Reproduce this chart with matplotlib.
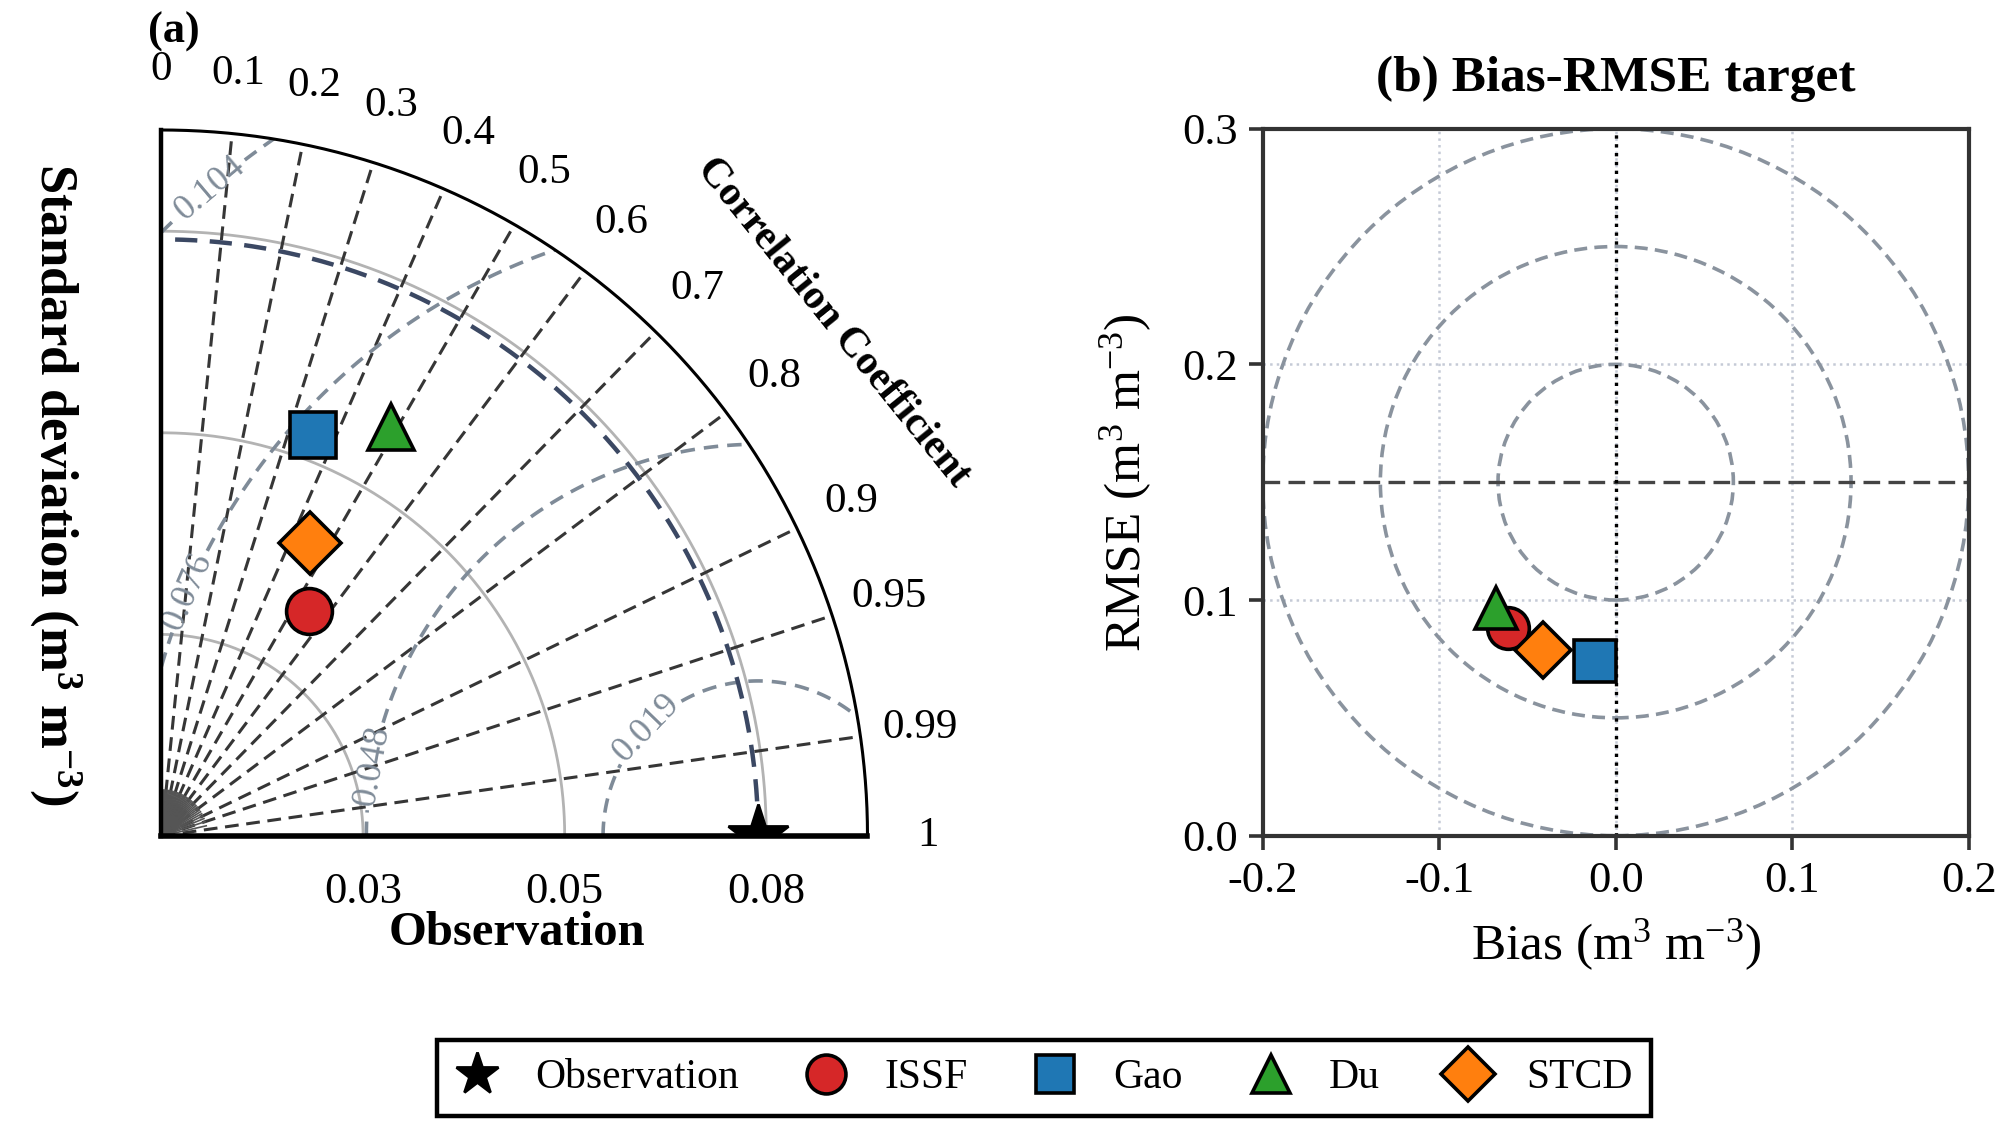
import numpy as np
import matplotlib
matplotlib.use('Agg')
import matplotlib.pyplot as plt
from matplotlib.patches import Wedge, Circle
from matplotlib.lines import Line2D

plt.rcParams['font.family'] = ['Liberation Serif', 'DejaVu Serif']
plt.rcParams['mathtext.fontset'] = 'custom'
plt.rcParams['mathtext.rm'] = 'Liberation Serif'
plt.rcParams['mathtext.it'] = 'Liberation Serif:italic'
plt.rcParams['mathtext.bf'] = 'Liberation Serif:bold'
plt.rcParams['axes.unicode_minus'] = False

# ---------------- data ----------------
models = ['ISSF', 'Gao', 'Du', 'STCD']
colors = ['#d62728', '#1f77b4', '#2ca02c', '#ff7f0e']
markers = ['o', 's', '^', 'D']

obs_std = 0.0731
model_std = [0.0330, 0.0525, 0.0575, 0.0403]
model_corr = [0.548, 0.353, 0.489, 0.452]

std_max = 0.0865
std_ticks = [0.0247, 0.0494, 0.0741]
std_tick_labels = ['0.03', '0.05', '0.08']

corr_lines = [0.1, 0.2, 0.3, 0.4, 0.5, 0.6, 0.7, 0.8, 0.9, 0.95, 0.99]
corr_labels = [0, 0.1, 0.2, 0.3, 0.4, 0.5, 0.6, 0.7, 0.8, 0.9, 0.95, 0.99, 1]

rms_levels = [0.019, 0.048, 0.076, 0.104]
rms_label_x = [0.0596, 0.0274, 0.0040, 0.0063]
rms_label_y = [0.0130, 0.0083, 0.0297, 0.0790]

bias = [-0.061, -0.012, -0.068, -0.041]
rmse = [0.088, 0.074, 0.0965, 0.079]
target_center = (0.0, 0.15)
target_rings = [0.05, 0.10, 0.15]   # in RMSE units
bias_ticks = [-0.2, -0.1, 0.0, 0.1, 0.2]
rmse_ticks = [0.0, 0.1, 0.2, 0.3]

# ---------------- figure ----------------
W, H = 2015, 1142
DPI = 200
fig = plt.figure(figsize=(W / DPI, H / DPI), dpi=DPI)

def rect(x0, y0, x1, y1):
    return [x0 / W, 1 - y1 / H, (x1 - x0) / W, (y1 - y0) / H]

# ======== (a) Taylor diagram ========
ax = fig.add_axes(rect(161.5, 130, 867.5, 836))
ax.set_xlim(0, std_max)
ax.set_ylim(0, std_max)
ax.axis('off')
R = std_max
wedge = Wedge((0, 0), R, 0, 90, transform=ax.transData)

th = np.linspace(0, np.pi / 2, 400)
# std grid arcs
for s in std_ticks:
    ax.plot(s * np.cos(th), s * np.sin(th), color='#b3b3b3', lw=1.0, zorder=1)
# correlation lines
for c in corr_lines:
    a = np.arccos(c)
    ax.plot([0, R * np.cos(a)], [0, R * np.sin(a)], color='#363636', lw=1.1,
            ls=(0, (4.5, 2.5)), zorder=2)
# dense fan near origin (decoration)
for c in np.linspace(0.0, 1.0, 41):
    a = np.arccos(c)
    ax.plot([0, 0.065 * R * np.cos(a)], [0, 0.065 * R * np.sin(a)],
            color='#555555', lw=0.6, zorder=2)

# RMS contours
xg = np.linspace(0, R, 500)
X, Y = np.meshgrid(xg, xg)
Z = np.sqrt((X - obs_std) ** 2 + Y ** 2)
cs = ax.contour(X, Y, Z, levels=rms_levels, colors='#7f8b98', linewidths=1.3,
                linestyles=[(0, (4.0, 2.5))], zorder=2)
cs.set_clip_path(wedge)
lbls = ax.clabel(cs, fmt='%.3f', fontsize=13, inline=True, inline_spacing=4,
                 manual=list(zip(rms_label_x, rms_label_y)))
for t in lbls:
    t.set_color('#7f8b98')

# reference std arc
ax.plot(obs_std * np.cos(th), obs_std * np.sin(th), color='#3b4863', lw=1.6,
        ls=(0, (5, 2.8)), zorder=3)
# outer arc and axes lines
ax.plot(R * np.cos(th), R * np.sin(th), color='black', lw=1.1, zorder=4, clip_on=False)
ax.plot([0, 0], [0, R], color='black', lw=1.6, zorder=4, clip_on=False)
ax.plot([0, R], [0, 0], color='black', lw=2.0, zorder=4, clip_on=False)

# points
ax.plot(obs_std, 0, marker='*', ms=23, color='black', zorder=6)
for m, s, c, col, mk in zip(models, model_std, model_corr, colors, markers):
    a = np.arccos(c)
    ms = 16.5 if mk != 'D' else 16.0
    ax.plot(s * np.cos(a), s * np.sin(a), marker=mk, ms=ms, color=col,
            mec='black', mew=1.3, ls='none', zorder=7)

# correlation labels
for c in corr_labels:
    a = np.arccos(c)
    ax.text(1.085 * R * np.cos(a), 1.085 * R * np.sin(a), f'{c:g}',
            ha='center', va='center', fontsize=15.5, clip_on=False)
a = np.deg2rad(37.4)
ax.text(1.197 * R * np.cos(a), 1.197 * R * np.sin(a), 'Correlation Coefficient',
        ha='center', va='center', rotation=-51, fontsize=15, fontweight='bold',
        rotation_mode='anchor')
# std tick labels
for s, lab in zip(std_ticks, std_tick_labels):
    ax.text(s, -0.0068, lab, ha='center', va='center', fontsize=16, clip_on=False)

fig.text(517 / W, 1 - 933 / H, 'Observation', ha='center', va='center',
         fontsize=17.5, fontweight='bold')
fig.text(55.5 / W, 1 - 484 / H,
         r'Standard deviation (m$^{\mathbf{3}}$ m$^{\mathbf{-3}}$)',
         ha='center', va='center', rotation=-90, fontsize=19, fontweight='bold')
fig.text(174 / W, 1 - 32 / H, '(a)', ha='center', va='center',
         fontsize=16, fontweight='bold')

# ======== (b) Bias-RMSE target ========
bx = fig.add_axes(rect(1262.7, 128.7, 1968.7, 835.7))
bx.set_xlim(bias_ticks[0], bias_ticks[-1])
bx.set_ylim(rmse_ticks[0], rmse_ticks[-1])
bx.set_xticks(bias_ticks)
bx.set_yticks(rmse_ticks)
bx.set_xticklabels([f'{v:.1f}' for v in bias_ticks])
bx.set_yticklabels([f'{v:.1f}' for v in rmse_ticks])
bx.tick_params(direction='out', length=5, width=1.3, labelsize=16, color='#333333', pad=4)
for sp in bx.spines.values():
    sp.set_color('#333333')
    sp.set_linewidth(1.5)
bx.grid(True, ls=':', color='#c5cad6', lw=0.9)
bx.set_axisbelow(True)

# rings (circles in display space, centred on target centre)
yr = rmse_ticks[-1] - rmse_ticks[0]
cx, cy = bx.transAxes.inverted().transform(bx.transData.transform(target_center))
for r in target_rings:
    bx.add_patch(Circle((cx, cy), r / yr, transform=bx.transAxes, fill=False,
                        ec='#8a939e', lw=1.3, ls=(0, (3.6, 2.0)), zorder=2))
bx.axhline(target_center[1], color='#444444', lw=1.2, ls=(0, (5, 2.5)), zorder=2)
bx.axvline(target_center[0], color='black', lw=1.2, ls=':', zorder=2)

for m, b, e, col, mk in zip(models, bias, rmse, colors, markers):
    ms = 15 if mk != 'D' else 14.5
    bx.plot(b, e, marker=mk, ms=ms, color=col, mec='black', mew=1.3, ls='none', zorder=5)

bx.set_title('(b) Bias-RMSE target', fontsize=18.5, fontweight='bold', pad=13.5)
bx.set_xlabel(r'Bias (m$^3$ m$^{-3}$)', fontsize=18.5, labelpad=6)
bx.set_ylabel(r'RMSE (m$^3$ m$^{-3}$)', fontsize=18.5, labelpad=10)

# ======== legend ========
handles = [Line2D([], [], marker='*', color='black', ls='none', ms=16)]
for m, col, mk in zip(models, colors, markers):
    handles.append(Line2D([], [], marker=mk, color=col, mec='black', mew=1.3,
                          ls='none', ms=14 if mk != 'D' else 13.5))
labels = ['Observation'] + models
leg = fig.legend(handles, labels, loc='center', bbox_to_anchor=(1044 / W, 1 - 1078 / H),
                 ncol=5, fontsize=15, frameon=True, fancybox=False, framealpha=1,
                 edgecolor='black', handlelength=1.0, handletextpad=0.9,
                 columnspacing=1.6, borderpad=0.45, borderaxespad=0)
leg.get_frame().set_linewidth(1.6)

fig.savefig('out.png', dpi=DPI)
